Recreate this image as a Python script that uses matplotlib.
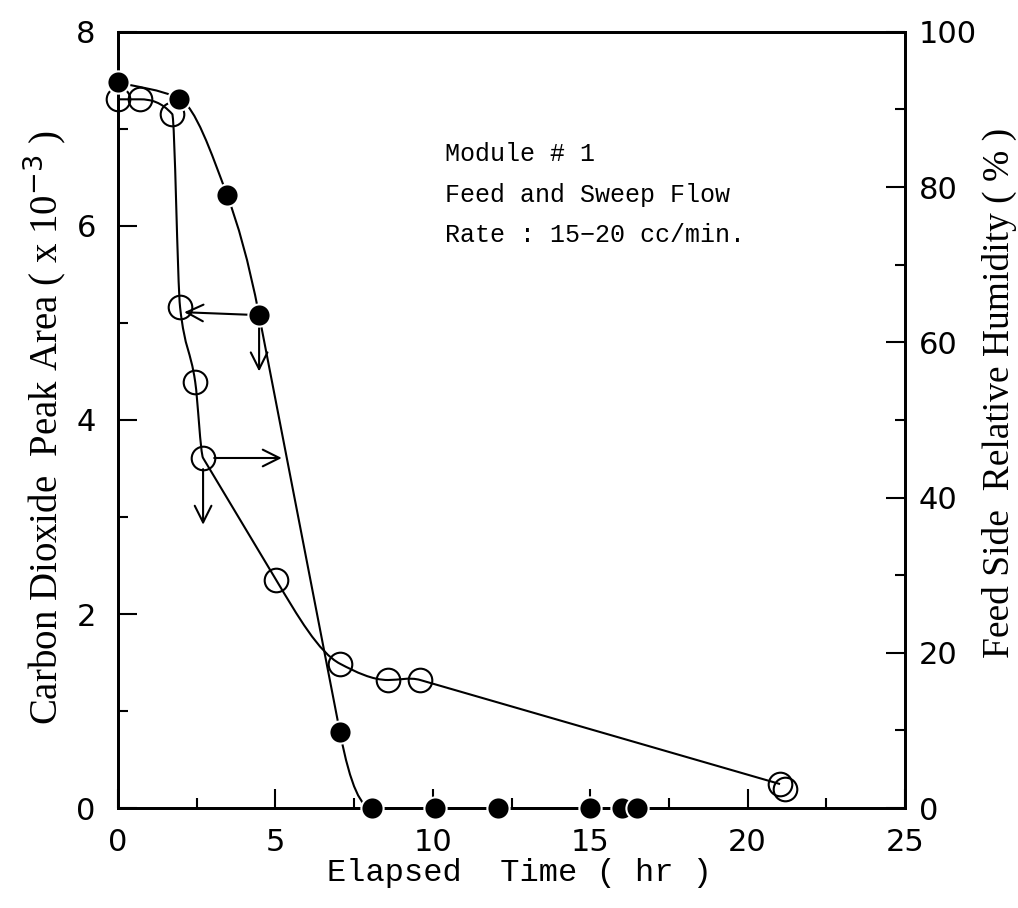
import numpy as np
import matplotlib
matplotlib.use("Agg")
import matplotlib.pyplot as plt
from matplotlib.path import Path
from matplotlib.patches import PathPatch
from matplotlib.ticker import MultipleLocator

# CO2 peak area (x 10^-3), filled circles, left axis
co2_time = [0.0, 1.95, 3.46, 4.48, 7.05, 8.07, 10.07, 12.07, 15.0, 16.0, 16.5]
co2_area = [7.48, 7.31, 6.32, 5.08, 0.78, 0.0, 0.0, 0.0, 0.0, 0.0, 0.0]

# feed side relative humidity (%), open circles, right axis
rh_time = [0.0, 0.7, 1.72, 1.97, 2.45, 2.7, 5.02, 7.05, 8.58, 9.6, 21.03, 21.2]
rh_pct = [91.3, 91.3, 89.4, 64.5, 54.9, 45.1, 29.4, 18.6, 16.5, 16.5, 3.1, 2.5]


def smooth_path(x, y, straight=()):
    # monotone cubic hermite through the points, drawn as bezier segments;
    # segments listed in `straight` are kept as straight lines
    x = np.asarray(x, float)
    y = np.asarray(y, float)
    h = np.diff(x)
    d = np.diff(y) / h
    m = np.zeros_like(x)
    m[0], m[-1] = d[0], d[-1]
    for i in range(1, len(x) - 1):
        if d[i - 1] * d[i] > 0:
            w1 = 2 * h[i] + h[i - 1]
            w2 = h[i] + 2 * h[i - 1]
            m[i] = (w1 + w2) / (w1 / d[i - 1] + w2 / d[i])
    for i in straight:
        m[i] = m[i + 1] = d[i]
    verts = [(x[0], y[0])]
    codes = [Path.MOVETO]
    for i in range(len(x) - 1):
        verts += [(x[i] + h[i] / 3, y[i] + m[i] * h[i] / 3),
                  (x[i + 1] - h[i] / 3, y[i + 1] - m[i + 1] * h[i] / 3),
                  (x[i + 1], y[i + 1])]
        codes += [Path.CURVE4] * 3
    return Path(verts, codes)


plt.rcParams['font.family'] = ['DejaVu Sans']
mono = 'Liberation Mono'
serif = 'Liberation Serif'

fig = plt.figure(figsize=(10.18, 9.08), dpi=100)
ax = fig.add_axes([0.116, 0.110, 0.773, 0.855])
ax2 = ax.twinx()

# curves
ax.add_patch(PathPatch(smooth_path(co2_time, co2_area, straight=(3,)),
                       fill=False, lw=1.5, ec='black', zorder=2))
ax2.add_patch(PathPatch(smooth_path(rh_time[:-1], rh_pct[:-1], straight=(5, 9)),
                        fill=False, lw=1.5, ec='black', zorder=2))

ax2.plot(rh_time, rh_pct, 'o', ms=17, mfc='none', mec='black', mew=1.5,
         zorder=3, clip_on=False)
ax.plot(co2_time, co2_area, 'o', ms=16, mfc='black', mec='white', mew=1.5,
        zorder=4, clip_on=False)
ax.set_zorder(ax2.get_zorder() + 1)
ax.patch.set_visible(False)

# arrows showing which axis each curve belongs to
arr = dict(arrowstyle='->', lw=1.5, color='black', mutation_scale=30,
           shrinkA=8, shrinkB=0)
ax.annotate('', xy=(2.1, 5.11), xytext=(4.48, 5.08), arrowprops=arr)
ax.annotate('', xy=(4.48, 4.5), xytext=(4.48, 5.08), arrowprops=arr)
ax2.annotate('', xy=(5.2, 45.1), xytext=(2.7, 45.1), arrowprops=arr)
ax2.annotate('', xy=(2.7, 36.5), xytext=(2.7, 45.1), arrowprops=arr)

ax.text(10.4, 6.86, 'Module # 1\nFeed and Sweep Flow\nRate : 15\u221220 cc/min.',
        fontsize=18, family=mono, va='top', ha='left', linespacing=1.85)

ax.set_xlim(0, 25)
ax.set_ylim(0, 8)
ax2.set_ylim(0, 100)

ax.xaxis.set_major_locator(MultipleLocator(5))
ax.xaxis.set_minor_locator(MultipleLocator(2.5))
ax.yaxis.set_major_locator(MultipleLocator(2))
ax.yaxis.set_minor_locator(MultipleLocator(1))
ax2.yaxis.set_major_locator(MultipleLocator(20))
ax2.yaxis.set_minor_locator(MultipleLocator(10))

for a in (ax, ax2):
    for s in a.spines.values():
        s.set_linewidth(2)
ax.tick_params(which='major', direction='in', length=14, width=1.5,
               labelsize=22, pad=14, top=False)
ax.tick_params(axis='y', which='major', pad=16)
ax.tick_params(which='minor', direction='in', length=7, width=1.5, top=False)
ax2.tick_params(which='major', direction='in', length=14, width=1.5,
                labelsize=22, pad=10)
ax2.tick_params(which='minor', direction='in', length=7, width=1.5)

ax.set_xlabel('Elapsed  Time ( hr )', fontsize=23, family=mono)
ax.xaxis.set_label_coords(0.51, -0.064)
ax.set_ylabel('Carbon Dioxide  Peak Area ( x 10$^{-3}$ )', fontsize=28,
              family=serif)
ax.yaxis.set_label_coords(-0.064, 0.49)
ax2.set_ylabel('Feed Side  Relative Humidity ( % )', fontsize=27,
               family=serif, rotation=90)
ax2.yaxis.set_label_coords(1.098, 0.535)

fig.savefig('out.png', dpi=100)
